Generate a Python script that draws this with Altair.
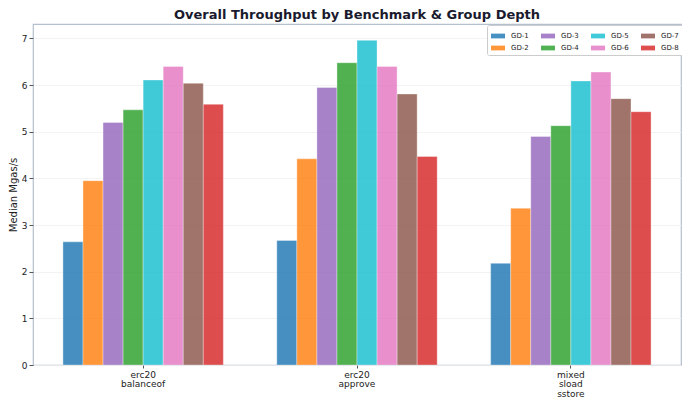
import altair as alt
import pandas as pd

benchmarks = ["erc20 balanceof", "erc20 approve", "mixed sload sstore"]
depths = ["GD-1", "GD-2", "GD-3", "GD-4", "GD-5", "GD-6", "GD-7", "GD-8"]
colors = ["#1f77b4", "#ff7f0e", "#9467bd", "#2ca02c", "#17becf", "#e377c2", "#8c564b", "#d62728"]
values = {
    "erc20 balanceof": [2.64, 3.95, 5.20, 5.47, 6.11, 6.40, 6.04, 5.59],
    "erc20 approve": [2.67, 4.42, 5.95, 6.48, 6.96, 6.40, 5.81, 4.47],
    "mixed sload sstore": [2.18, 3.36, 4.90, 5.13, 6.09, 6.28, 5.71, 5.43],
}

rows = []
for b in benchmarks:
    for d, v in zip(depths, values[b]):
        rows.append({"benchmark": b, "depth": d, "value": v})
df = pd.DataFrame(rows)

chart = alt.Chart(df).mark_bar(
    opacity=0.82, stroke="white", strokeWidth=0.6, strokeOpacity=0.6
).encode(
    x=alt.X("benchmark:N", sort=benchmarks,
            scale=alt.Scale(paddingInner=0.25, paddingOuter=0.14),
            axis=alt.Axis(title=None, labelAngle=0, labelExpr="split(datum.label, ' ')",
                          labelFontSize=9, labelColor="#222", labelFont="DejaVu Sans",
                          tickColor="#555", tickSize=3, domain=False, labelPadding=2,
                          labelLineHeight=9.5)),
    xOffset=alt.XOffset("depth:N", sort=depths, scale=alt.Scale(paddingInner=0, paddingOuter=0)),
    y=alt.Y("value:Q", scale=alt.Scale(domain=[0, 7.31], nice=False),
            axis=alt.Axis(title="Median Mgas/s", values=[0, 1, 2, 3, 4, 5, 6, 7],
                          titleFontSize=10, titleFontWeight="normal", titleFont="DejaVu Sans",
                          titleColor="#222", labelFontSize=9, labelColor="#222",
                          labelFont="DejaVu Sans", tickColor="#555", tickSize=4,
                          domain=False, grid=True, gridColor="#f0f0f0", gridWidth=0.8,
                          titlePadding=3)),
    color=alt.Color("depth:N", scale=alt.Scale(domain=depths, range=colors),
                    legend=alt.Legend(title=None, orient="none", legendX=454, legendY=1,
                                      columns=4, symbolType="M-1,-0.34H1V0.34H-1Z",
                                      symbolSize=196, symbolOpacity=0.82, symbolStrokeWidth=0,
                                      labelFontSize=7, labelFont="DejaVu Sans", labelColor="#222",
                                      columnPadding=12, rowPadding=2, labelOffset=6,
                                      strokeColor="#cccccc", fillColor="white", padding=4,
                                      cornerRadius=2)),
).properties(
    width=648,
    height=341,
    title=alt.TitleParams("Overall Throughput by Benchmark & Group Depth", fontSize=13,
                          fontWeight="bold", font="DejaVu Sans", color="#1a1a2e",
                          anchor="middle", offset=2),
    autosize=alt.AutoSizeParams(type="none"),
    padding={"left": 25, "top": 16, "right": 1, "bottom": 33},
).configure_view(
    stroke="#b4bfcf", strokeWidth=1.2
)

chart.save("out.html", embed_options={"renderer": "svg", "actions": False})
